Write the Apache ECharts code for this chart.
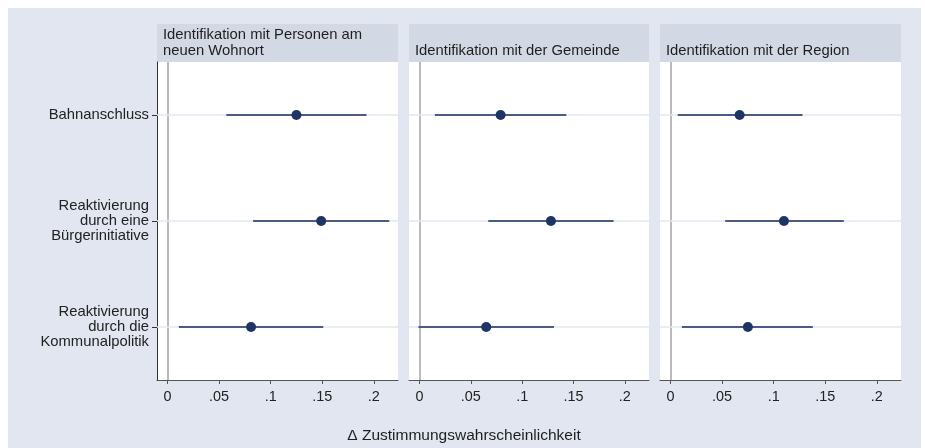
<!DOCTYPE html>
<html>
<head>
<meta charset="utf-8">
<script src="https://cdn.jsdelivr.net/npm/echarts@6/dist/echarts.min.js"></script>
<style>
html, body { margin: 0; padding: 0; background: #fff; }
#main { width: 925px; height: 448px; }
</style>
</head>
<body>
<div id="main"></div>
<script>
var categories = ['Bahnanschluss', 'Reaktivierung\ndurch eine\nBürgerinitiative', 'Reaktivierung\ndurch die\nKommunalpolitik'];
var panelTitles = ['Identifikation mit Personen am\nneuen Wohnort', 'Identifikation mit der Gemeinde', 'Identifikation mit der Region'];
var xTicks = [0, 0.05, 0.1, 0.15, 0.2];
var axisTitle = 'Δ Zustimmungswahrscheinlichkeit';

// point estimates and 95% CI, one row per category
var pointPersonen = [0.125, 0.149, 0.081];
var lowPersonen   = [0.057, 0.083, 0.011];
var highPersonen  = [0.193, 0.215, 0.151];

var pointGemeinde = [0.079, 0.128, 0.065];
var lowGemeinde   = [0.015, 0.067, -0.001];
var highGemeinde  = [0.143, 0.189, 0.131];

var pointRegion = [0.067, 0.110, 0.075];
var lowRegion   = [0.007, 0.053, 0.011];
var highRegion  = [0.128, 0.168, 0.138];

var points = [pointPersonen, pointGemeinde, pointRegion];
var lows = [lowPersonen, lowGemeinde, lowRegion];
var highs = [highPersonen, highGemeinde, highRegion];

var FONT = "'Liberation Sans', Arial, sans-serif";
var panelLeft = [157, 409, 660];
var panelWidth = [241, 240, 241];
var plotTop = 62, plotHeight = 318, headerTop = 24;

var chart = echarts.init(document.getElementById('main'));

var grids = [], xAxes = [], yAxes = [], series = [];
var graphics = [{
    type: 'rect', z: -10,
    shape: { x: 8, y: 8, width: 913, height: 440 },
    style: { fill: '#e1e6f0' }
}];

function renderBar(params, api) {
    var a = api.coord([api.value(0), api.value(2)]);
    var b = api.coord([api.value(1), api.value(2)]);
    return {
        type: 'line',
        shape: { x1: a[0], y1: a[1], x2: b[0], y2: b[1] },
        style: { stroke: '#4a5b85', lineWidth: 2.2 }
    };
}

for (var i = 0; i < 3; i++) {
    grids.push({
        left: panelLeft[i], width: panelWidth[i], top: plotTop, height: plotHeight,
        show: true, backgroundColor: '#fff', borderWidth: 0
    });
    xAxes.push({
        type: 'value', gridIndex: i, min: -0.0102, max: 0.2235,
        splitLine: { show: false },
        axisLine: { show: true, onZero: false, lineStyle: { color: '#555', width: 1 } },
        axisTick: { show: true, length: 4, customValues: xTicks, lineStyle: { color: '#555' } },
        axisLabel: {
            customValues: xTicks, margin: 10, color: '#222', fontFamily: FONT, fontSize: 14.4,
            formatter: function (v) { return v === 0 ? '0' : String(v).replace(/^0/, ''); }
        }
    });
    yAxes.push({
        type: 'category', gridIndex: i, data: categories, inverse: true,
        splitLine: { show: false },
        axisLine: { show: i === 0, onZero: false, lineStyle: { color: '#333', width: 1 } },
        axisTick: { show: i === 0, alignWithLabel: true, length: 5, lineStyle: { color: '#333' } },
        axisLabel: {
            show: i === 0, margin: 8, color: '#222', fontFamily: FONT, fontSize: 14.8,
            lineHeight: 15, align: 'right'
        }
    });

    var refLines = [{ xAxis: 0, lineStyle: { color: '#bababa', width: 2, type: 'solid' } }];
    categories.forEach(function (c) {
        refLines.push({ yAxis: c, lineStyle: { color: '#e3e7ef', width: 1.5, type: 'solid' } });
    });
    series.push({
        type: 'scatter', xAxisIndex: i, yAxisIndex: i, data: [], z: 1,
        markLine: { z: 1, silent: true, symbol: ['none', 'none'], label: { show: false }, animation: false, data: refLines }
    });
    series.push({
        type: 'custom', xAxisIndex: i, yAxisIndex: i, z: 3,
        renderItem: renderBar,
        encode: { x: [0, 1], y: 2 },
        data: lows[i].map(function (l, j) { return [l, highs[i][j], j]; })
    });
    series.push({
        type: 'scatter', xAxisIndex: i, yAxisIndex: i, z: 4,
        symbol: 'circle', symbolSize: 10,
        itemStyle: { color: '#1d3464', opacity: 1 },
        data: points[i].map(function (p, j) { return [p, j]; })
    });

    graphics.push({
        type: 'rect', z: -5,
        shape: { x: panelLeft[i], y: headerTop, width: panelWidth[i], height: plotTop - headerTop },
        style: { fill: '#d3d9e4' }
    });
    graphics.push({
        type: 'text', z: 5,
        style: {
            x: panelLeft[i] + 6, y: 58.5, text: panelTitles[i], verticalAlign: 'bottom',
            fill: '#1e1e1e', font: '14.8px ' + FONT, lineHeight: 16
        }
    });
}

graphics.push({
    type: 'text', z: 5,
    style: {
        x: 464, y: 436, text: axisTitle, align: 'center', verticalAlign: 'middle',
        fill: '#1e1e1e', font: '15.5px ' + FONT
    }
});

chart.setOption({
    animation: false,
    grid: grids,
    xAxis: xAxes,
    yAxis: yAxes,
    graphic: graphics,
    series: series
});
</script>
</body>
</html>
